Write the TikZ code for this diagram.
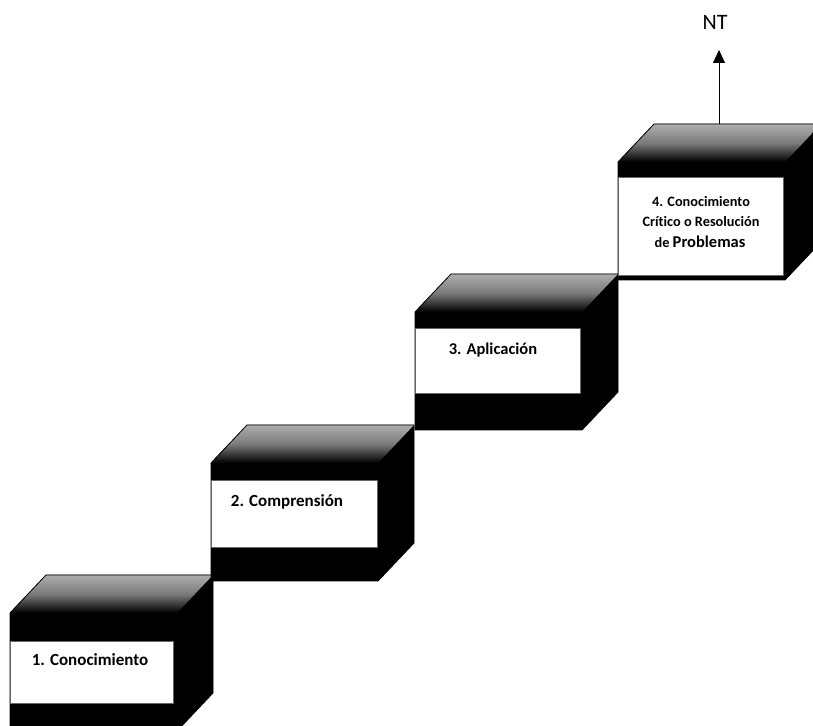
\documentclass[tikz,border=0pt]{standalone}
\usepackage{fontspec}
\setmainfont[Ligatures={NoCommon}]{Carlito}
\usetikzlibrary{arrows.meta}
\tikzset{
  cubetop/.style={top color=black!32, bottom color=black, middle color=black!52},
  whitepanel/.style={fill=white, draw=black!60, line width=0.4pt, inner sep=0pt, anchor=north west},
  boxlabel/.style={font=\bfseries, text=black, inner sep=0pt, align=center},
  ntlabel/.style={font=\fontsize{22}{24}\selectfont, inner sep=0pt},
  uparrow/.style={line width=1pt, -{Triangle[width=12pt,length=13pt]}}
}
% #1 x of front left, #2 y of front top
\newcommand\mycube[2]{%
  \fill[black] (#1,#2) -- ++(36,38) -- ++(167,0) -- ++(0,-118) -- ++(-36,-38) -- ++(-167,0) -- cycle;
  \shade[cubetop] (#1,#2) -- ++(36,38) -- ++(167,0) -- ++(-36,-38) -- cycle;
  \draw[black, line width=0.8pt] (#1,#2) -- ++(36,38) -- ++(167,0) -- ++(0,-118) -- ++(-36,-38) -- ++(-167,0) -- cycle;
}
\begin{document}
\begin{tikzpicture}[x=1pt,y=1pt]
\useasboundingbox (0,0) rectangle (813,725);
\clip (0,0) rectangle (813,725);
\fill[white] (0,0) rectangle (813,725);

% box 1
\mycube{10}{112}
\node[whitepanel, minimum width=163pt, minimum height=62pt] (p1) at (10,84) {};
\node[boxlabel, font=\bfseries\fontsize{17}{20}\selectfont] (t1) at (90,65) {1. Conocimiento};

% box 2
\mycube{211}{262}
\node[whitepanel, minimum width=166pt, minimum height=67pt] (p2) at (211,245) {};
\node[boxlabel, font=\bfseries\fontsize{17}{20}\selectfont] (t2) at (287,223) {2. Comprensión};

% box 3
\mycube{415}{413}
\node[whitepanel, minimum width=165pt, minimum height=65pt] (p3) at (415,397) {};
\node[boxlabel, font=\bfseries\fontsize{16.5}{20}\selectfont] (t3) at (493,375) {3. Aplicación};

% box 4
\mycube{618}{563}
\node[whitepanel, minimum width=165pt, minimum height=98pt] (p4) at (618,548) {};
\node[boxlabel, font=\bfseries\fontsize{14.3}{20}\selectfont] (t4a) at (701,523) {4. Conocimiento};
\node[boxlabel, font=\bfseries\fontsize{14.3}{20}\selectfont] (t4b) at (701,503) {Crítico o Resolución};
\node[boxlabel, font=\bfseries\fontsize{14.3}{20}\selectfont] (t4c) at (700,483) {de {\fontsize{16.5}{20}\selectfont Problemas}};

% NT arrow
\node[ntlabel] (nt) at (715,703) {NT};
\coordinate (b4top) at (719,601);
\coordinate (tip) at (719,675);
\draw[uparrow] (b4top) -- (tip);
\end{tikzpicture}
\end{document}
